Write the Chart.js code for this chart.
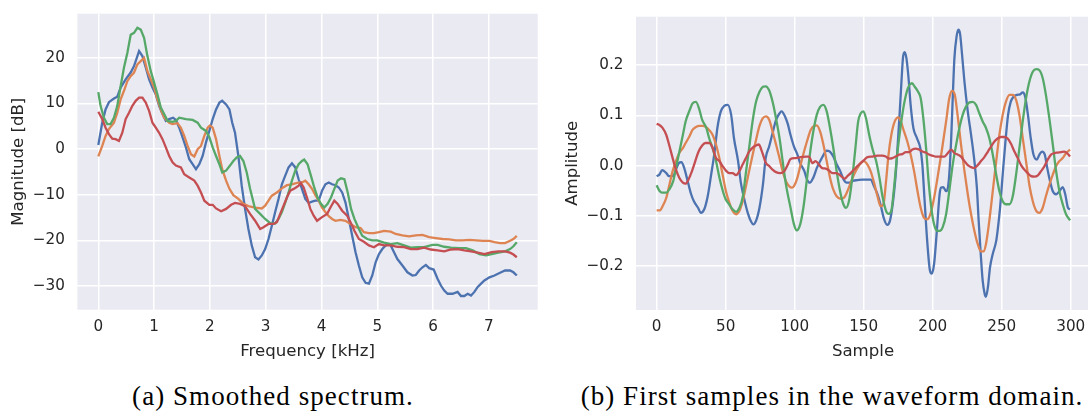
<!DOCTYPE html>
<html>
<head>
<meta charset="utf-8">
<script src="https://cdn.jsdelivr.net/npm/chart.js@4.4.1/dist/chart.umd.min.js"></script>
<style>
  html, body { margin:0; padding:0; width:1088px; height:415px; overflow:hidden; background:#ffffff; }
  .wrap { position:absolute; top:0; height:370px; }
  .cap { position:absolute; top:383px; font-family:"Liberation Serif", serif; font-size:27px; line-height:27px; color:#000; white-space:nowrap; letter-spacing:1.05px; transform:translateX(-50%); }
</style>
</head>
<body>
<div class="wrap" style="left:0;width:545px;"><canvas id="c1" width="545" height="370"></canvas></div>
<div class="wrap" style="left:545px;width:550px;"><canvas id="c2" width="550" height="370"></canvas></div>
<div class="cap" style="left:273px;">(a) Smoothed spectrum.</div>
<div class="cap" style="left:832px;">(b) First samples in the waveform domain.</div>
<script>
// ---------- (a) Smoothed spectrum: frequency [kHz] / magnitude [dB] ----------
const specBlueF = [0,0.07,0.13,0.19,0.28,0.34,0.4,0.49,0.58,0.64,0.7,0.73,0.79,0.85,0.91,0.97,1.03,1.09,1.15,1.21,1.27,1.34,1.39,1.45,1.51,1.57,1.63,1.69,1.75,1.81,1.87,1.93,1.99,2.05,2.11,2.17,2.22,2.29,2.35,2.4,2.45,2.51,2.57,2.63,2.69,2.75,2.81,2.87,2.93,2.99,3.05,3.11,3.17,3.23,3.29,3.35,3.41,3.47,3.53,3.59,3.65,3.71,3.77,3.83,3.89,3.95,4.01,4.07,4.13,4.19,4.25,4.31,4.37,4.43,4.49,4.55,4.61,4.67,4.73,4.79,4.85,4.91,4.97,5.03,5.09,5.15,5.2,5.24,5.3,5.36,5.45,5.54,5.63,5.69,5.75,5.81,5.87,5.93,6.01,6.08,6.14,6.2,6.26,6.35,6.44,6.5,6.56,6.62,6.68,6.74,6.8,6.86,6.92,7.01,7.1,7.2,7.29,7.38,7.44,7.5];
const specBlueDb = [0.9,5.8,8.7,10.3,11.1,11.5,13.5,15.3,16.8,18.2,20.4,21.5,20.4,17.9,15.3,13.5,12.0,9.5,7.7,6.2,6.6,6.9,6.4,4.7,2.6,0.4,-2.2,-3.3,-4.4,-3.3,-1.5,1.5,4.0,6.6,8.7,10.2,10.6,9.8,8.7,5.8,3.6,-1.5,-8.0,-13.1,-17.5,-21.1,-23.7,-24.2,-23.3,-21.9,-19.7,-16.8,-13.8,-10.9,-7.7,-5.8,-4.0,-3.1,-4.0,-6.6,-8.7,-10.9,-11.8,-11.5,-11.3,-11.3,-9.1,-7.7,-7.3,-7.7,-7.9,-8.4,-9.5,-11.7,-15.3,-19.0,-22.6,-25.5,-28.1,-29.3,-29.5,-27.7,-24.8,-23.0,-21.9,-21.1,-20.8,-21.1,-22.6,-24.1,-25.5,-27.0,-27.7,-27.6,-26.6,-25.9,-25.4,-26.1,-26.4,-28.4,-29.9,-31.0,-31.7,-31.7,-31.3,-32.2,-32.2,-31.7,-32.1,-31.3,-30.2,-29.5,-28.8,-28.1,-27.7,-27.1,-26.6,-26.6,-27.0,-27.7];

const specOrangeF = [0,0.07,0.13,0.19,0.28,0.34,0.4,0.46,0.52,0.58,0.64,0.7,0.76,0.82,0.88,0.94,1.0,1.06,1.12,1.18,1.27,1.33,1.42,1.48,1.54,1.6,1.66,1.72,1.78,1.84,1.9,1.96,2.0,2.05,2.11,2.17,2.22,2.29,2.35,2.42,2.51,2.6,2.69,2.81,2.93,2.99,3.05,3.11,3.2,3.29,3.38,3.47,3.56,3.65,3.71,3.77,3.83,3.89,3.95,4.01,4.07,4.13,4.19,4.25,4.34,4.43,4.52,4.61,4.7,4.76,4.85,4.94,5.03,5.12,5.24,5.33,5.45,5.57,5.69,5.81,5.93,6.05,6.17,6.29,6.41,6.53,6.65,6.77,6.89,7.01,7.1,7.2,7.29,7.38,7.44,7.5];
const specOrangeDb = [-1.6,0.7,2.9,4.4,5.8,8.0,10.9,12.8,14.9,16.0,16.8,18.6,19.3,20.0,17.1,15.3,13.5,10.9,8.7,6.9,5.8,5.5,5.7,4.7,2.9,0.7,-1.1,-1.6,0.0,0.7,2.9,4.7,5.2,4.7,2.2,-1.5,-4.4,-6.9,-8.7,-10.1,-10.9,-12.0,-12.5,-12.8,-13.0,-12.4,-11.3,-10.2,-9.5,-8.6,-7.9,-7.7,-7.4,-7.3,-6.9,-7.7,-8.7,-10.1,-11.3,-12.8,-13.8,-14.7,-15.3,-15.7,-15.5,-15.7,-16.4,-17.1,-17.3,-18.2,-18.4,-18.4,-18.2,-17.9,-18.1,-18.6,-18.9,-19.1,-18.9,-18.8,-19.3,-19.5,-19.7,-19.8,-20.0,-20.0,-19.9,-20.0,-20.1,-20.1,-20.4,-20.6,-20.6,-20.1,-19.7,-19.0];

const specGreenF = [0,0.04,0.1,0.16,0.22,0.28,0.34,0.4,0.46,0.52,0.58,0.64,0.7,0.76,0.82,0.88,0.94,1.0,1.06,1.12,1.18,1.24,1.33,1.39,1.45,1.57,1.69,1.78,1.84,1.93,1.99,2.05,2.11,2.17,2.22,2.29,2.36,2.42,2.48,2.54,2.6,2.66,2.72,2.81,2.9,2.99,3.08,3.17,3.23,3.29,3.35,3.41,3.47,3.53,3.59,3.65,3.69,3.75,3.81,3.87,3.93,3.99,4.05,4.11,4.17,4.23,4.29,4.35,4.41,4.47,4.53,4.59,4.67,4.73,4.82,4.91,5.0,5.12,5.24,5.36,5.48,5.6,5.72,5.84,5.99,6.08,6.2,6.32,6.47,6.59,6.71,6.83,6.95,7.05,7.17,7.29,7.38,7.44,7.5];
const specGreenDb = [12.5,9.5,6.9,5.5,5.5,6.9,9.5,13.8,17.9,21.1,25.1,25.5,26.6,26.2,24.4,20.4,17.1,14.6,12.0,9.1,7.7,6.2,6.0,6.2,6.9,6.6,6.4,5.8,4.7,4.0,2.6,0.4,-1.5,-3.3,-5.1,-4.7,-3.6,-2.6,-1.8,-1.5,-2.6,-5.1,-8.7,-13.1,-14.2,-15.3,-16.2,-16.3,-15.3,-13.8,-11.7,-9.5,-6.9,-4.7,-3.3,-2.6,-2.3,-3.3,-5.8,-8.4,-10.6,-12.0,-12.8,-12.0,-10.6,-8.7,-6.9,-6.4,-6.6,-9.5,-13.1,-15.3,-17.5,-19.0,-19.7,-20.0,-20.0,-20.5,-20.8,-20.6,-21.1,-21.6,-21.5,-21.5,-21.0,-21.0,-21.4,-21.6,-21.7,-21.7,-22.2,-23.0,-23.3,-23.0,-22.7,-22.4,-21.9,-21.3,-20.4];

const specRedF = [0,0.07,0.13,0.19,0.25,0.31,0.37,0.43,0.49,0.55,0.61,0.67,0.73,0.79,0.85,0.91,0.97,1.03,1.09,1.15,1.21,1.27,1.33,1.39,1.48,1.54,1.63,1.72,1.78,1.84,1.9,1.99,2.05,2.11,2.2,2.29,2.38,2.45,2.54,2.63,2.72,2.81,2.9,2.96,3.05,3.14,3.2,3.26,3.32,3.38,3.44,3.53,3.59,3.63,3.68,3.74,3.8,3.86,3.92,4.01,4.1,4.16,4.23,4.29,4.37,4.46,4.52,4.59,4.67,4.76,4.85,4.94,5.03,5.12,5.24,5.36,5.48,5.6,5.72,5.84,5.96,6.08,6.2,6.32,6.44,6.56,6.68,6.8,6.92,7.05,7.17,7.29,7.38,7.44,7.5];
const specRedDb = [8.2,6.6,4.7,3.3,2.3,2.2,1.8,3.6,6.6,8.0,9.5,10.6,11.3,11.3,10.2,8.4,5.8,4.7,3.6,2.2,0.4,-1.5,-2.9,-3.6,-4.0,-5.5,-6.2,-6.9,-8.0,-9.5,-11.3,-12.2,-12.2,-13.0,-13.6,-13.1,-12.2,-11.8,-12.0,-12.5,-14.2,-15.7,-17.5,-17.1,-16.4,-16.4,-16.0,-14.2,-12.4,-10.6,-9.1,-8.5,-8.0,-7.4,-8.4,-10.6,-13.1,-14.6,-15.7,-14.9,-14.2,-12.8,-11.3,-12.0,-13.5,-14.6,-16.0,-17.9,-19.7,-20.3,-21.1,-21.5,-20.8,-21.1,-21.1,-21.4,-21.5,-21.9,-21.9,-21.6,-22.0,-22.2,-22.4,-22.0,-21.9,-22.2,-22.4,-22.7,-23.0,-22.6,-22.4,-22.4,-22.7,-23.1,-23.7];

const specXTicks = [0,1,2,3,4,5,6,7];
const specXTickLabels = ['0','1','2','3','4','5','6','7'];
const specYTicks = [-30,-20,-10,0,10,20];
const specYTickLabels = ['\u221230','\u221220','\u221210','0','10','20'];

// ---------- (b) First samples in the waveform domain: sample / amplitude ----------
const waveBlueS = [0,2,4,7,9,12,14,16,18,20,22.5,25,27,30,32,34.5,37,39.5,42,44,46.5,49,51.5,54,56,59,61,63.5,66,68.5,70,72,74.5,77,79,81.5,84,86.5,89,90.5,93,95,97,99.5,102,104,107,109,111,113.5,116,118.5,121,123,125.5,128,130.5,133,135.5,137.5,140,142.5,145.5,149,152.5,155,157.5,160,162.5,164.5,167,169,171,173,174.5,176,177.5,178.5,179.7,181,182.5,184,186,188.5,191,192.5,194,196,198,199.3,201,203,205,206,207.7,209.7,211,212,213.3,214.5,215.7,217.4,218.6,219.8,221.3,223,225.4,227.8,230.2,232,233.3,234.8,236.2,237.7,238.6,240,241.5,243.5,246,247.3,248.8,250.7,252.7,254.6,256.5,258.5,261,263.3,265.2,267,269,271,273,275.4,277.3,279.2,281.2,283,285,287,289.4,291.8,294.2,296,298,299.5];
const waveBlueA = [-0.021,-0.018,-0.009,-0.015,-0.021,-0.021,-0.008,0.005,0.007,-0.005,-0.031,-0.057,-0.071,-0.084,-0.094,-0.087,-0.061,-0.018,0.028,0.075,0.108,0.119,0.121,0.101,0.055,0.009,-0.034,-0.067,-0.094,-0.112,-0.117,-0.110,-0.084,-0.038,0.015,0.038,0.065,0.091,0.104,0.108,0.098,0.083,0.061,0.038,0.022,0.005,-0.011,-0.028,-0.034,-0.024,-0.005,0.009,0.022,0.030,0.028,0.018,0.002,-0.011,-0.028,-0.034,-0.034,-0.030,-0.029,-0.028,-0.028,-0.028,-0.041,-0.057,-0.081,-0.104,-0.118,-0.110,-0.077,-0.024,0.035,0.101,0.174,0.216,0.226,0.213,0.174,0.121,0.075,0.055,0.035,0.002,-0.064,-0.150,-0.209,-0.215,-0.196,-0.130,-0.057,-0.044,-0.043,-0.051,-0.044,-0.018,0.048,0.134,0.213,0.259,0.271,0.263,0.220,0.167,0.108,0.061,0.009,-0.044,-0.110,-0.176,-0.229,-0.256,-0.261,-0.242,-0.203,-0.176,-0.150,-0.123,-0.084,-0.018,0.048,0.101,0.127,0.137,0.141,0.142,0.146,0.137,0.101,0.055,0.022,0.012,0.022,0.028,0.022,-0.005,-0.031,-0.051,-0.057,-0.051,-0.043,-0.057,-0.084,-0.087];

const waveOrangeS = [0,2.4,4.3,7,9,11.6,14,16.4,19,21,23.7,26,28.5,31,33.3,35.7,38,40.6,43,45.4,47.8,50.2,52.7,55,57.5,60,62.3,64.7,67,69.6,72,74.4,76.8,79.2,81.6,84,86.5,89,91.3,93.7,96,98,99.5,102,104.3,106.8,109.2,111.6,114,116,118.4,120.8,123.2,125.6,128,130.4,133.3,135.7,138.2,140.6,143,145.4,147.8,150.2,152.7,155,157.5,160,162.3,164.3,166.2,168,170,172.5,175,176.8,179.2,181.6,184,186.5,189,191.3,193.7,196,198.6,201,203.5,206.5,209.7,212,214,216,218,220.5,223,225.4,227.8,230.2,232.6,235,236.7,238.6,241,243.5,246,248.3,250.7,253,255.6,258,260.4,262.8,265.2,267.6,270,272.5,275,277.3,279.7,282,284.5,287,289.4,291.8,294.2,296.6,299.5];
const waveOrangeA = [-0.089,-0.089,-0.081,-0.064,-0.041,-0.011,0.009,0.025,0.035,0.045,0.058,0.071,0.077,0.079,0.079,0.077,0.071,0.061,0.042,0.015,-0.018,-0.051,-0.074,-0.090,-0.097,-0.090,-0.071,-0.041,-0.011,0.022,0.051,0.078,0.094,0.098,0.091,0.068,0.042,0.015,-0.011,-0.031,-0.041,-0.044,-0.041,-0.024,0.002,0.028,0.051,0.071,0.079,0.080,0.068,0.042,0.009,-0.024,-0.048,-0.061,-0.066,-0.064,-0.051,-0.034,-0.018,-0.005,0.005,0.009,0.002,-0.011,-0.034,-0.061,-0.081,-0.077,-0.031,0.022,0.061,0.088,0.096,0.089,0.068,0.048,0.022,-0.011,-0.051,-0.084,-0.104,-0.107,-0.094,-0.064,-0.024,0.028,0.088,0.134,0.149,0.141,0.101,0.042,-0.011,-0.057,-0.097,-0.130,-0.156,-0.171,-0.171,-0.156,-0.110,-0.051,0.009,0.061,0.101,0.127,0.141,0.141,0.131,0.101,0.055,0.009,-0.038,-0.071,-0.090,-0.094,-0.084,-0.061,-0.038,-0.018,-0.001,0.009,0.015,0.025,0.032];

const waveGreenS = [0,2,4,7,9,12,14,16.5,19,21,24,26,28.5,31,33,36,38,40.5,43,45.5,48,50,52.5,55,57.5,60,62.5,64.5,67,69.5,72,74.5,77,79,81.5,84,86.5,89,91.3,93.7,97,99.5,101.5,104,106.3,108.7,111,113.5,116,118.4,120.8,123.2,125.6,128,130.4,132.9,135.3,137.2,139.6,142,144,146,147.8,149.8,151.7,154,156.5,159,161.4,163.8,166.2,168,170,172,174,176.3,178.7,181.2,183,185,187,189.4,191.3,193.2,195.2,197,199,201,203.4,205,207.2,209.7,212,214.5,217,219.3,221.7,224,226.6,229,231.4,233.8,236.2,238.6,241,243.5,246,248.3,250.7,253,255.6,258,260.4,262.8,265.2,267.6,270,272.5,275,277.3,279.7,282,284.5,287,289.4,291.8,294.2,296.6,299.5];
const waveGreenA = [-0.039,-0.050,-0.054,-0.054,-0.048,-0.031,-0.005,0.028,0.061,0.088,0.111,0.124,0.127,0.111,0.091,0.075,0.055,0.035,0.009,-0.024,-0.051,-0.067,-0.077,-0.087,-0.092,-0.084,-0.061,-0.018,0.035,0.088,0.127,0.147,0.157,0.158,0.150,0.127,0.094,0.055,0.009,-0.038,-0.084,-0.117,-0.129,-0.117,-0.084,-0.031,0.022,0.068,0.101,0.117,0.121,0.108,0.075,0.035,-0.011,-0.051,-0.077,-0.084,-0.067,-0.018,0.035,0.088,0.104,0.108,0.094,0.061,0.032,0.009,-0.024,-0.064,-0.090,-0.096,-0.090,-0.044,0.015,0.068,0.114,0.147,0.160,0.164,0.157,0.147,0.134,0.094,0.035,-0.031,-0.084,-0.117,-0.130,-0.130,-0.123,-0.097,-0.051,0.002,0.042,0.075,0.101,0.117,0.126,0.127,0.121,0.104,0.088,0.075,0.055,0.022,-0.018,-0.051,-0.071,-0.077,-0.077,-0.061,-0.018,0.035,0.088,0.134,0.167,0.187,0.192,0.190,0.174,0.141,0.094,0.042,-0.011,-0.051,-0.077,-0.097,-0.109];

const waveRedS = [0,2,4.3,7,9,11.6,14,16.4,19,21,23,25.6,28,30.4,33,35.3,38.2,40.6,43,45.4,47.8,50.2,52.7,55,57.5,60,62.3,64.7,67,69.6,72,74,76.3,79.2,81.6,84,86.5,89.4,92.5,95,97,100.7,104.3,108,110.4,112.8,115.2,117.6,120,122.5,125,127.3,129.7,132,134.5,136.2,138.2,140.6,143,145.4,147.8,150.2,152.7,156.3,160,163.5,166,168.4,170.8,173.2,175.6,178,180.5,183,185.3,187.7,190,192.5,195,197.3,199.8,202.2,205,208.5,211,213.3,215.7,218,220.5,223,225.4,227.8,230.2,232.6,235,237.4,240,242.3,244.7,247,249.5,252,254.3,256.8,259.2,261.6,264,266.4,268.8,271.3,273.7,276,278.5,281,283.3,285.7,288.2,290.6,293,295.4,297.3,299.5];
const waveRedA = [0.083,0.081,0.075,0.061,0.042,0.015,-0.008,-0.024,-0.034,-0.036,-0.028,-0.011,0.009,0.028,0.040,0.045,0.045,0.035,0.015,0.009,-0.001,-0.010,-0.015,-0.015,-0.019,-0.011,0.002,0.015,0.028,0.036,0.040,0.042,0.028,0.005,-0.001,-0.008,-0.013,-0.015,-0.011,0.002,0.013,0.015,0.017,0.018,0.018,0.005,0.009,0.002,-0.005,-0.006,-0.010,-0.015,-0.015,-0.017,-0.023,-0.026,-0.021,-0.015,-0.008,-0.001,0.005,0.011,0.017,0.018,0.020,0.020,0.018,0.014,0.015,0.018,0.022,0.023,0.027,0.027,0.032,0.034,0.032,0.028,0.026,0.022,0.020,0.018,0.018,0.018,0.025,0.032,0.025,0.022,0.018,0.009,0.001,-0.003,-0.005,0.001,0.009,0.017,0.028,0.038,0.048,0.054,0.057,0.057,0.054,0.043,0.028,0.015,0.001,-0.008,-0.015,-0.021,-0.022,-0.020,-0.011,-0.001,0.012,0.022,0.025,0.026,0.027,0.028,0.025,0.018];

const waveXTicks = [0,50,100,150,200,250,300];
const waveXTickLabels = ['0','50','100','150','200','250','300'];
const waveYTicks = [-0.2,-0.1,0,0.1,0.2];
const waveYTickLabels = ['\u22120.2','\u22120.1','0.0','0.1','0.2'];

// ---------- styling ----------
const COLORS = { blue:'#4C72B0', orange:'#DD8452', green:'#55A868', red:'#C44E52' };
const TEXT = '#262626';
const FONT = 'DejaVu Sans';
const TICK_SIZE = 15.2;
const TITLE_SIZE = 16.6;

const bgPlugin = {
  id: 'plotBg',
  beforeDraw(chart) {
    const { ctx, chartArea: a } = chart;
    ctx.save();
    ctx.fillStyle = '#EAEAF2';
    ctx.fillRect(a.left, a.top, a.right - a.left, a.bottom - a.top);
    ctx.restore();
  }
};

function pts(xs, ys) { return xs.map((x, i) => ({ x: x, y: ys[i] })); }

function makeDataset(xs, ys, color, order, smooth) {
  return {
    data: pts(xs, ys), borderColor: color, borderWidth: 2.3, pointRadius: 0,
    fill: false, order: order, tension: 0,
    cubicInterpolationMode: smooth ? 'monotone' : 'default'
  };
}

function makeChart(id, cfg) {
  return new Chart(document.getElementById(id), {
    type: 'line',
    data: { datasets: cfg.datasets },
    plugins: [bgPlugin],
    options: {
      responsive: false, animation: false, devicePixelRatio: 1,
      layout: { padding: { left: 0, top: cfg.top, right: cfg.right, bottom: 0 } },
      plugins: { legend: { display: false }, tooltip: { enabled: false } },
      scales: {
        x: {
          type: 'linear', min: cfg.xMin, max: cfg.xMax,
          afterBuildTicks: ax => { ax.ticks = cfg.xTicks.map(v => ({ value: v })); },
          afterFit: s => { s.height = cfg.xAxisH; s.paddingLeft = 0; s.paddingRight = 0; s.paddingTop = 0; s.paddingBottom = 0; },
          grid: { color: '#ffffff', lineWidth: 1.5, drawTicks: false },
          border: { display: false },
          ticks: {
            font: { family: FONT, size: TICK_SIZE }, color: TEXT, padding: 8, maxRotation: 0, autoSkip: false,
            callback: v => cfg.xLabels[cfg.xTicks.indexOf(v)]
          },
          title: { display: true, text: cfg.xTitle, font: { family: FONT, size: TITLE_SIZE }, color: TEXT, padding: { top: 0, bottom: 8 } }
        },
        y: {
          type: 'linear', min: cfg.yMin, max: cfg.yMax,
          afterBuildTicks: ax => { ax.ticks = cfg.yTicks.map(v => ({ value: v })); },
          afterFit: s => { s.width = cfg.yAxisW; s.paddingLeft = 0; s.paddingRight = 0; s.paddingTop = 0; s.paddingBottom = 0; },
          grid: { color: '#ffffff', lineWidth: 1.5, drawTicks: false },
          border: { display: false },
          ticks: {
            font: { family: FONT, size: TICK_SIZE }, color: TEXT, padding: 12.5, autoSkip: false,
            callback: v => cfg.yLabels[cfg.yTicks.indexOf(v)]
          },
          title: { display: true, text: cfg.yTitle, font: { family: FONT, size: TITLE_SIZE }, color: TEXT, padding: { top: cfg.yTitlePad, bottom: 0 } }
        }
      }
    }
  });
}

makeChart('c1', {
  datasets: [
    makeDataset(specBlueF, specBlueDb, COLORS.blue, 4, false),
    makeDataset(specOrangeF, specOrangeDb, COLORS.orange, 3, false),
    makeDataset(specGreenF, specGreenDb, COLORS.green, 2, false),
    makeDataset(specRedF, specRedDb, COLORS.red, 1, false)
  ],
  xMin: -0.375, xMax: 7.875, yMin: -35.2, yMax: 29.7,
  xTicks: specXTicks, xLabels: specXTickLabels, yTicks: specYTicks, yLabels: specYTickLabels,
  xTitle: 'Frequency [kHz]', yTitle: 'Magnitude [dB]',
  top: 13.7, right: 7.3, xAxisH: 60.3, yAxisW: 77.4, yTitlePad: 9
});

makeChart('c2', {
  datasets: [
    makeDataset(waveBlueS, waveBlueA, COLORS.blue, 4, true),
    makeDataset(waveOrangeS, waveOrangeA, COLORS.orange, 3, true),
    makeDataset(waveGreenS, waveGreenA, COLORS.green, 2, true),
    makeDataset(waveRedS, waveRedA, COLORS.red, 1, true)
  ],
  xMin: -14.95, xMax: 313.95, yMin: -0.2876, yMax: 0.2966,
  xTicks: waveXTicks, xLabels: waveXTickLabels, yTicks: waveYTicks, yLabels: waveYTickLabels,
  xTitle: 'Sample', yTitle: 'Amplitude',
  top: 16.7, right: 5, xAxisH: 60, yAxisW: 91, yTitlePad: 18
});
</script>
</body>
</html>
